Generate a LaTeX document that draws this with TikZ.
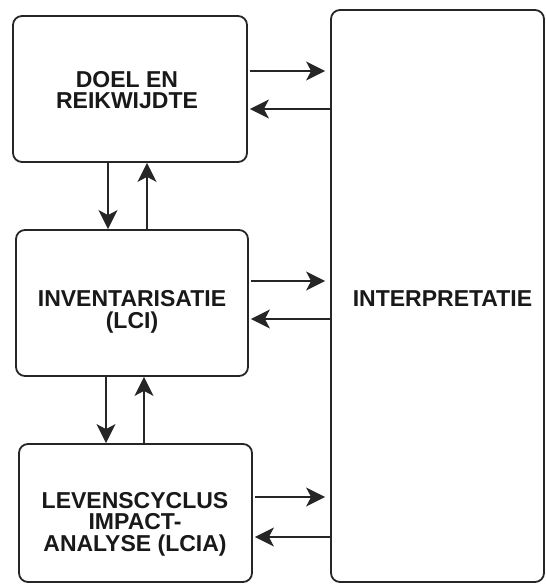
\documentclass[tikz,border=0pt]{standalone}
\usepackage{fontspec}
\setmainfont{Liberation Sans}
\usetikzlibrary{arrows.meta}
\begin{document}
\begin{tikzpicture}[x=1pt,y=1pt,
  stagebox/.style={draw=black!85, line width=1.8pt, rounded corners=9pt,
    inner sep=0pt, fill=white},
  stagetext/.style={font=\fontsize{23}{21.5}\selectfont\bfseries,
    align=center, inner sep=0pt, text=black!90},
  arr/.style={line width=1.6pt, draw=black!85,
    -{Stealth[length=19pt,width=19pt,inset=5pt]}}]
  \useasboundingbox (0,0) rectangle (545,585);

  % the four phases
  \node[stagebox, minimum width=234pt, minimum height=146pt] (b1) at (130,496) {};
  \node[stagebox, minimum width=232pt, minimum height=146pt] (b2) at (132,282) {};
  \node[stagebox, minimum width=233pt, minimum height=138pt] (b3) at (135.5,72) {};
  \node[stagebox, minimum width=213pt, minimum height=572pt] (b4) at (437.5,289) {};

  \node[stagetext] (t1) at (127,495) {DOEL EN\\REIKWIJDTE};
  \node[stagetext] (t2) at (132,273) {INVENTARISATIE\\(LCI)};
  \node[stagetext] (t3) at (135,61) {LEVENSCYCLUS\\IMPACT-\\ANALYSE (LCIA)};
  \node[stagetext] (t4) at (442.5,286) {INTERPRETATIE};

  % exchanges with the interpretation phase
  \draw[arr, shorten <=2pt, shorten >=5pt] (b1.east |- 0,514) -- (b4.west |- 0,514);
  \draw[arr, shorten <=0pt, shorten >=2pt] (b4.west |- 0,476) -- (b1.east |- 0,476);
  \draw[arr, shorten <=2pt, shorten >=5pt] (b2.east |- 0,304) -- (b4.west |- 0,304);
  \draw[arr, shorten <=0pt, shorten >=2pt] (b4.west |- 0,266) -- (b2.east |- 0,266);
  \draw[arr, shorten <=2pt, shorten >=5pt] (b3.east |- 0,88) -- (b4.west |- 0,88);
  \draw[arr, shorten <=0pt, shorten >=2pt] (b4.west |- 0,48) -- (b3.east |- 0,48);

  % iteration between consecutive phases
  \draw[arr] (b1.south -| 108,0) -- (b2.north -| 108,0);
  \draw[arr] (b2.north -| 147,0) -- (b1.south -| 147,0);
  \draw[arr] (b2.south -| 106,0) -- (b3.north -| 106,0);
  \draw[arr] (b3.north -| 144,0) -- (b2.south -| 144,0);
\end{tikzpicture}
\end{document}
